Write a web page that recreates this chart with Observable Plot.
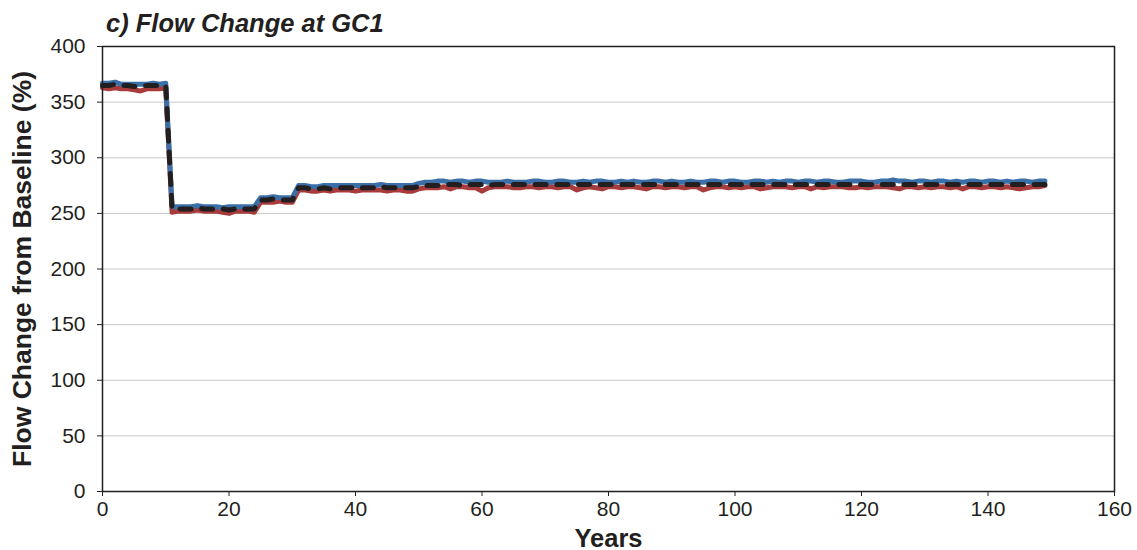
<!DOCTYPE html>
<html>
<head>
<meta charset="utf-8">
<script src="https://cdn.jsdelivr.net/npm/d3@7"></script>
<script src="https://cdn.jsdelivr.net/npm/@observablehq/plot@0.6"></script>
<style>
  html, body { margin: 0; padding: 0; background: #fff; }
  #title { height: 40px; position: relative; font-family: "Liberation Sans", Arial, sans-serif; }
  #title span { position: absolute; left: 106px; top: 11px; line-height: 1; font-size: 25.5px; font-weight: bold; font-style: italic; color: #231f20; white-space: nowrap; }
  #chart svg { display: block; overflow: visible; }
</style>
</head>
<body>
<div id="title"><span>c) Flow Change at GC1</span></div>
<div id="chart"></div>
<script>
const years = d3.range(0, 150);

const meanFlow = [
  365,365,366,365,365,364,364,365,365,365,365,
  254,254,254,254,255,254,254,254,254,253,254,254,254,254,
  262,262,263,262,262,262,
  273,273,272,272,273,272,273,273,273,273,273,273,273,274,273,273,273,273,273,
  274,275,275,275,276,276,276,275,276,276,
  276,275,276,276,276,276,276,276,276,276,
  276,276,276,276,276,276,276,276,276,276,
  276,276,276,276,276,276,276,276,276,276,
  276,276,276,276,276,276,276,276,276,276,
  276,276,276,276,276,276,276,276,276,276,
  276,276,276,276,276,276,276,276,276,276,
  276,276,276,276,276,276,276,276,276,276,
  276,276,276,276,276,276,276,276,276,276,
  276,276,276,276,276,276,276,276,276,276
];

const upperFlow = [
  367,367,368,366,366,366,366,366,367,366,367,
  256,256,256,256,257,256,256,256,255,256,256,256,256,256,
  264,264,265,264,264,264,
  275,275,274,274,275,275,275,275,275,275,275,275,275,276,275,275,275,275,275,
  277,278,278,279,279,278,279,279,278,279,
  279,278,278,278,279,278,278,278,279,279,
  278,278,279,279,278,278,279,278,279,279,
  278,278,279,278,279,278,278,279,279,278,
  279,278,278,279,278,278,279,279,278,279,
  279,278,278,279,279,278,279,278,279,279,
  278,279,279,278,279,279,278,278,279,279,
  279,278,278,279,279,280,279,279,278,279,
  279,278,279,279,278,279,278,279,279,278,
  279,279,278,279,278,279,279,278,279,279
];

const lowerFlow = [
  363,362,363,362,362,361,360,362,362,362,363,
  251,252,252,252,253,252,252,252,251,250,252,252,252,251,
  260,260,260,261,260,260,
  271,271,270,270,271,270,271,271,271,270,271,271,271,271,270,271,271,270,270,
  272,273,273,273,274,272,274,274,273,273,
  270,273,274,274,274,273,273,274,274,273,
  274,274,273,274,274,271,273,274,273,272,
  274,274,273,274,274,273,272,274,274,273,
  274,274,273,274,274,271,273,274,274,273,
  274,273,274,274,272,273,274,274,274,273,
  274,274,272,274,273,274,274,274,273,273,
  274,273,274,274,274,273,272,274,274,273,
  274,273,274,274,273,274,272,274,274,273,
  274,274,273,274,273,272,273,274,274,275
];

const xTicks = [0, 20, 40, 60, 80, 100, 120, 140, 160];
const yTicks = [0, 50, 100, 150, 200, 250, 300, 350, 400];
const gridTicks = [50, 100, 150, 200, 250, 300, 350];

const lower = years.map((y, i) => ({year: y, value: lowerFlow[i]}));
const upper = years.map((y, i) => ({year: y, value: upperFlow[i]}));
const mean = years.map((y, i) => ({year: y, value: meanFlow[i]}));

const chart = Plot.plot({
  width: 1137,
  height: 510,
  marginLeft: 102,
  marginRight: 23,
  marginTop: 6,
  marginBottom: 59,
  style: {fontFamily: '"Liberation Sans", Arial, sans-serif', fontSize: "20px", color: "#231f20", background: "#fff", overflow: "visible"},
  x: {domain: [0, 160], ticks: xTicks},
  y: {domain: [0, 400], ticks: yTicks},
  marks: [
    Plot.gridY(gridTicks, {stroke: "#c8c8c8", strokeOpacity: 1, strokeWidth: 1}),
    Plot.axisX({ticks: xTicks, tickSize: 5, tickPadding: 5, label: null, fontSize: 21}),
    Plot.axisY({ticks: yTicks, tickSize: 5, tickPadding: 12, label: null, fontSize: 21}),
    Plot.line(lower, {x: "year", y: "value", stroke: "#a83c3c", strokeWidth: 5, strokeLinejoin: "round"}),
    Plot.line(upper, {x: "year", y: "value", stroke: "#3a6fa8", strokeWidth: 5, strokeLinejoin: "round"}),
    Plot.line(mean, {x: "year", y: "value", stroke: "#231f20", strokeWidth: 5, strokeDasharray: "11,10.7", strokeLinecap: "round", strokeLinejoin: "round"}),
    Plot.frame({stroke: "#231f20", strokeWidth: 1.5}),
    Plot.text(["Flow Change from Baseline (%)"], {frameAnchor: "left", textAnchor: "middle", lineAnchor: "middle", dx: -80, rotate: -90, fontSize: 26.5, fontWeight: "bold", fill: "#231f20"}),
    Plot.text(["Years"], {frameAnchor: "bottom", textAnchor: "middle", lineAnchor: "middle", dy: 47, fontSize: 25.5, fontWeight: "bold", fill: "#231f20"})
  ]
});
d3.select(chart).selectAll('[aria-label$="tick label"]').attr("font-size", 21).selectAll("text").attr("font-size", 21);
document.getElementById("chart").appendChild(chart);
</script>
</body>
</html>
